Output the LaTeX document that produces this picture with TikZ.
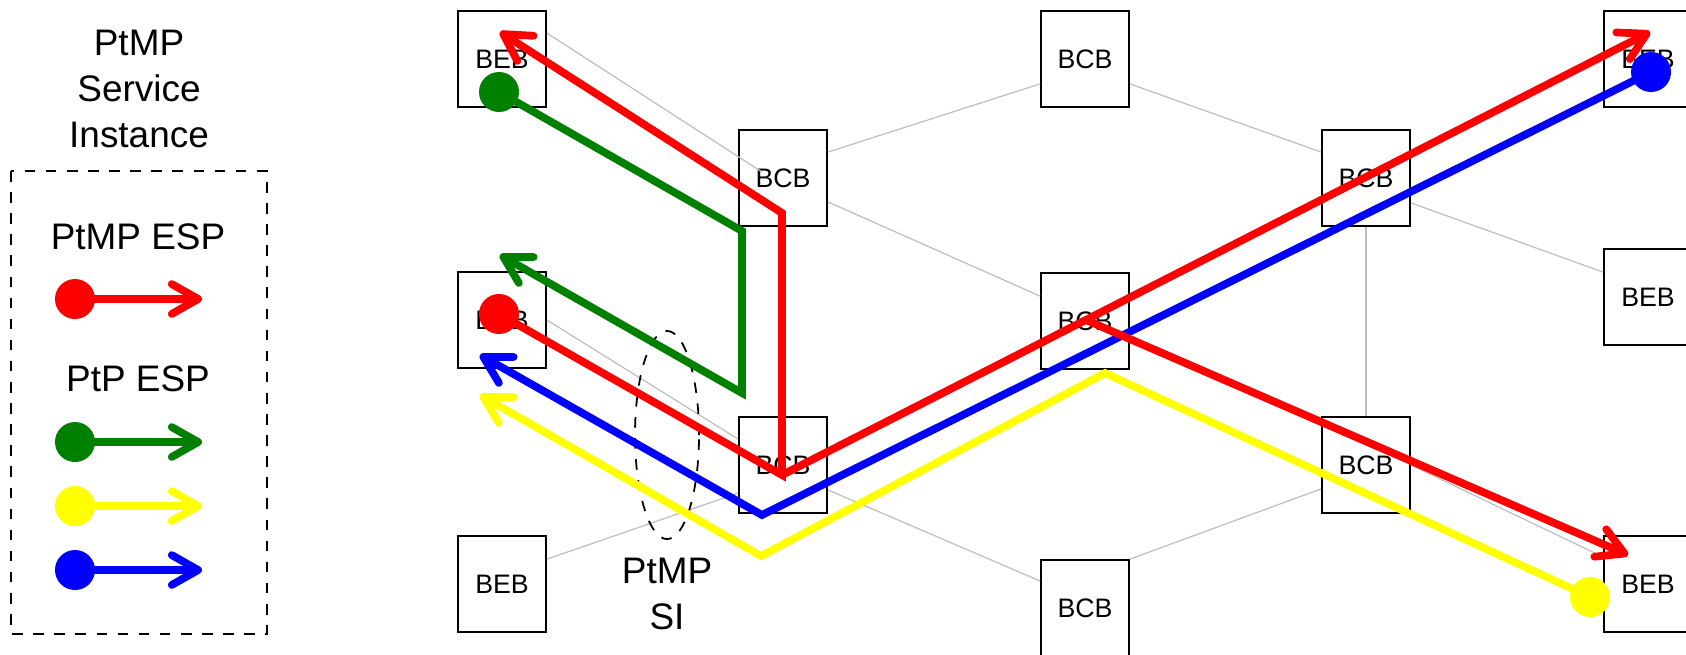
\documentclass[tikz,border=0pt]{standalone}
\usepackage{fontspec}
\setmainfont{Liberation Sans}
\usetikzlibrary{arrows.meta,shapes.geometric}
\definecolor{linkgray}{RGB}{190,190,190}
\definecolor{espred}{RGB}{255,0,0}
\definecolor{espgreen}{RGB}{0,128,0}
\definecolor{espyellow}{RGB}{255,255,0}
\definecolor{espblue}{RGB}{0,0,255}

\begin{document}
\begin{tikzpicture}[x=0.01cm, y=-0.01cm,
	bridge/.style={draw=black, line width=0.5pt, minimum width=0.88cm,
	minimum height=0.96cm, inner sep=0pt, font=\fontsize{7.6}{9}\selectfont},
	link/.style={draw=linkgray, line width=0.35pt},
	esp/.style={draw=#1, line width=2.2pt,
	-{Straight Barb[length=7.5pt, width=8.5pt, round]}},
	espdot/.style={circle, fill=#1, inner sep=0pt, minimum size=0.4cm},
	legendtext/.style={align=center, font=\fontsize{10.5}{13}\selectfont}]
	\path[use as bounding box, clip] (0,0) rectangle (1686,654);

	% Legende
	\node[legendtext] (siTitle) at (139,89) {PtMP\\Service\\Instance};
	\draw[dashed, line width=0.5pt] (11,171) rectangle (267,634);
	\node[legendtext] (ptmpTitle) at (138,237) {PtMP ESP};
	\node[espdot=espred] (lgRed) at (75,299) {};
	\coordinate (lgRedEnd) at (202,299);
	\draw[esp=espred] (lgRed.center) -- (lgRedEnd);
	\node[legendtext] (ptpTitle) at (138,379) {PtP ESP};
	\foreach \col/\y/\nm in {espgreen/442/Green, espyellow/506/Yellow,
	espblue/570/Blue} {
		\node[espdot=\col] (lg\nm) at (75,\y) {};
		\coordinate (lg\nm End) at (202,\y);
		\draw[esp=\col] (lg\nm.center) -- (lg\nm End);
	}

	% Bruecken
	\node[bridge] (bebTL) at (502,59) {BEB};
	\node[bridge] (bebML) at (502,320) {BEB};
	\node[bridge] (bebBL) at (502,584) {BEB};
	\node[bridge] (bcbL1) at (783,178) {BCB};
	\node[bridge] (bcbL2) at (783,465) {BCB};
	\node[bridge] (bcbM1) at (1085,59) {BCB};
	\node[bridge] (bcbM2) at (1085,321) {BCB};
	\node[bridge] (bcbM3) at (1085,608) {BCB};
	\node[bridge] (bcbR1) at (1366,178) {BCB};
	\node[bridge] (bcbR2) at (1366,465) {BCB};
	\node[bridge] (bebTR) at (1648,59) {BEB};
	\node[bridge] (bebMR) at (1648,297) {BEB};
	\node[bridge] (bebBR) at (1648,584) {BEB};

	% Verbindungen
	\coordinate (bcbL1in) at (762,172);
	\draw[link] (bebTL.30) -- (bcbL1in);
	\draw[link] (bcbL1.30) -- (bcbM1.209);
	\draw[link] (bcbL1.-28) -- (bcbM2.151);
	\draw[link] (bebML.east) -- (bcbL2.150);
	\draw[link] (bebBL.29) -- (bcbL2.212);
	\draw[link] (bcbL2.-29) -- (bcbM3.149);
	\draw[link] (bcbM1.-29) -- (bcbR1.150);
	\draw[link] (bcbR1.-29) -- (bebMR.151);
	\draw[link] (bcbR1.south) -- (bcbR2.north);
	\draw[link] (bcbM3.north east) -- (bcbR2.208);
	\draw[link] (bcbR2.east) -- (bebBR.149);

	% PtMP SI
	\node[draw, dashed, line width=0.5pt, ellipse, inner sep=0pt,
	minimum width=0.64cm, minimum height=2.08cm] (siRing) at (667,435) {};
	\node[legendtext] (siLabel) at (667,594) {PtMP\\SI};

	% PtP ESP gruen
	\node[espdot=espgreen] (gS) at (499,92) {};
	\coordinate (gA) at (742,231);
	\coordinate (gB) at (742,393);
	\coordinate (gE) at (500,255);
	\draw[esp=espgreen] (gS.center) -- (gA) -- (gB) -- (gE);

	% PtP ESP gelb
	\node[espdot=espyellow] (yS) at (1590,597) {};
	\coordinate (yA) at (1105,373);
	\coordinate (yB) at (761,556);
	\coordinate (yE) at (480,395);
	\draw[esp=espyellow] (yS.center) -- (yA) -- (yB) -- (yE);

	% PtP ESP blau
	\node[espdot=espblue] (bS) at (1651,72) {};
	\coordinate (bA) at (762,515);
	\coordinate (bE) at (480,355);
	\draw[esp=espblue] (bS.center) -- (bA) -- (bE);

	% PtMP ESP rot
	\node[espdot=espred] (rS) at (499,314) {};
	\coordinate (rA) at (782,475);
	\coordinate (rB) at (782,213);
	\coordinate (rE1) at (500,32);
	\coordinate (rE2) at (1650,32);
	\coordinate (rFork) at (1086,320);
	\coordinate (rE3) at (1628,555);
	\draw[esp=espred] (rS.center) -- (rA) -- (rB) -- (rE1);
	\draw[esp=espred] (rA) -- (rE2);
	\draw[esp=espred] (rFork) -- (rE3);
\end{tikzpicture}
\end{document}
